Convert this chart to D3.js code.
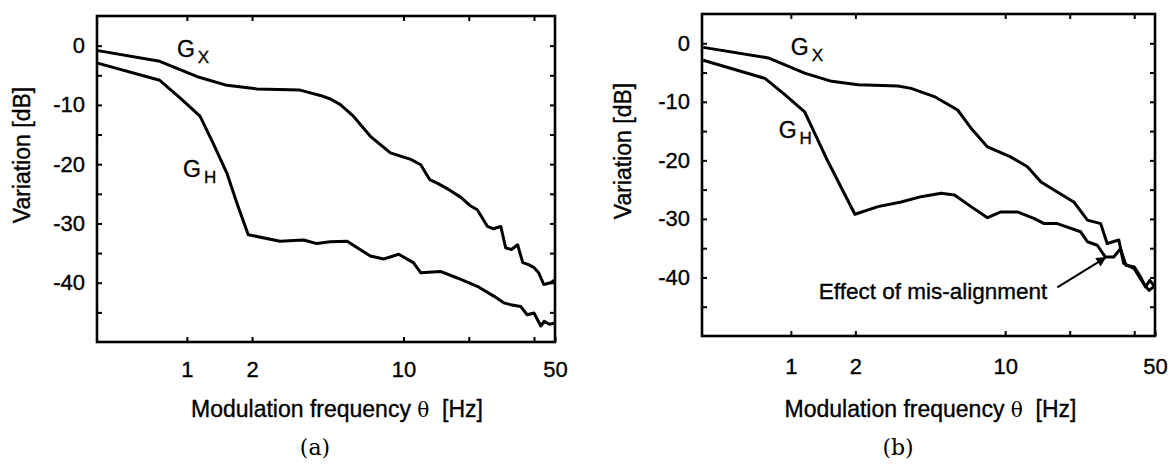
<!DOCTYPE html>
<html>
<head>
<meta charset="utf-8">
<script src="https://cdn.jsdelivr.net/npm/d3@7"></script>
<style>
body { margin: 0; background: #fff; }
</style>
</head>
<body>
<div id="chart"></div>
<script>
// Data: frequency [Hz] and variation [dB]
var freq_a_gx   =   [ 0.383, 0.75, 1.11, 1.53, 2.1, 3.33, 4.13, 4.6, 5.11, 5.87, 7.03, 8.7, 10.8, 12.0, 13.2, 14.3, 16.2, 18.4, 20.3, 21.9, 24.4, 26.0, 28.1, 29.6, 31.5, 33.6, 35.5, 37.5, 39.9, 42.0, 44.4, 47.7, 50 ];
var db_a_gx     =   [ -0.8, -2.65, -5.2, -6.7, -7.3, -7.5, -8.4, -9.0, -9.95, -11.9, -15.3, -18.1, -19.2, -20.1, -22.6, -23.2, -24.3, -25.6, -27.0, -27.7, -30.5, -30.9, -30.5, -34.1, -34.4, -33.6, -36.6, -36.9, -37.4, -38.3, -40.3, -40.0, -39.5 ];
var freq_a_gh   =   [ 0.383, 0.75, 0.93, 1.15, 1.32, 1.53, 1.7, 1.92, 2.69, 3.46, 3.98, 4.59, 5.49, 7.03, 8.1, 9.5, 11.1, 12.0, 14.8, 17.7, 21.9, 26.2, 29.1, 31.2, 34.7, 37.2, 40, 43, 44.6, 47.1, 50 ];
var db_a_gh     =   [ -2.9, -5.85, -8.8, -11.9, -16.4, -21.5, -26.5, -31.9, -33.0, -32.8, -33.4, -33.1, -33.0, -35.5, -36.0, -35.2, -36.6, -38.3, -38.1, -39.2, -40.6, -42.3, -43.4, -43.7, -44.0, -45.4, -45.1, -47.3, -46.5, -47.0, -46.8 ];

var freq_b_gx   =   [ 0.39, 0.785, 1.16, 1.55, 2.06, 3.16, 3.64, 4.67, 6.0, 6.93, 8.27, 10.6, 12.7, 14.7, 17.5, 20.9, 24.2, 27.9, 29.9, 33.9, 35.7, 40, 44.3, 46.9, 50 ];
var db_b_gx     =   [ -0.7, -2.5, -5.1, -6.5, -7.1, -7.3, -7.7, -9.1, -11.4, -14.5, -17.7, -19.4, -21.1, -23.7, -25.4, -27.1, -30.2, -30.8, -34.2, -33.6, -37.6, -38.5, -41.1, -42.2, -41.4 ];
var freq_b_gh   =   [ 0.39, 0.757, 0.94, 1.16, 1.49, 1.99, 2.55, 3.27, 4.05, 5.02, 5.8, 6.93, 8.27, 9.55, 11.4, 13.6, 15.2, 17.5, 19.5, 22.5, 24.2, 26.9, 29.3, 32.1, 34.5, 36.6, 40, 42.8, 45.1, 47.3, 50 ];
var db_b_gh     =   [ -2.9, -6.0, -8.8, -11.7, -20.2, -29.2, -27.9, -27.1, -26.2, -25.6, -25.9, -27.9, -29.8, -28.8, -28.8, -29.9, -30.8, -30.8, -31.4, -32.2, -33.9, -34.5, -36.5, -36.5, -35.1, -37.9, -38.2, -39.9, -41.6, -40.5, -41.6 ];

// Ticks and labels
var x_ticks     =   [ 1, 2, 10, 20, 40, 50 ];
var x_labels    =   [ 1, 2, 10, 50 ];
var y_ticks     =   [ 0, -5, -10, -15, -20, -25, -30, -35, -40, -45 ];
var y_labels    =   [ 0, -10, -20, -30, -40 ];
var x_domain    =   [ 0.385, 50 ];
var y_domain    =   [ -50, 5 ];
var x_title     =   "Modulation frequency ";
var y_title     =   "Variation [dB]";
var captions    =   [ "(a)", "(b)" ];

// Curve label positions [Hz, dB]
var label_gx_a  =   [ 0.90, -1.9 ];
var label_gh_a  =   [ 0.96, -22.2 ];
var label_gx_b  =   [ 1.0, -2.0 ];
var label_gh_b  =   [ 0.877, -16.2 ];

// Annotation in (b) [Hz, dB]
var note_text   =   "Effect of mis-alignment";
var note_pos    =   [ 1.35, -43.6 ];
var arrow_from  =   [ 17.5, -41.7 ];
var arrow_to    =   [ 29.4, -36.6 ];

var chart_width     =   1173;
var chart_height    =   464;
var sans            =   "'Liberation Sans', Arial, Helvetica, sans-serif";

var svg = d3.select("#chart")
    .append("svg")
    .attr("width", chart_width)
    .attr("height", chart_height)
    .style("background", "#fff");

svg.append("defs").append("marker")
    .attr("id", "arrowhead")
    .attr("viewBox", "0 0 10 10")
    .attr("refX", 9).attr("refY", 5)
    .attr("markerWidth", 7).attr("markerHeight", 5)
    .attr("markerUnits", "strokeWidth")
    .attr("orient", "auto")
    .append("path")
    .attr("d", "M0,0 L10,5 L0,10 z")
    .attr("fill", "#000");

// heavier look of the printed sans text
function ink(sel, size) {
    return sel.attr("font-family", sans).attr("font-size", size)
        .attr("fill", "#000").attr("stroke", "#000").attr("stroke-width", 0.35);
}

var panels = [
    { left: 97,  top: 16, right: 555,  bottom: 342, xpad: 19, title_dx: 11, cap_x: 315,
      gx: [freq_a_gx, db_a_gx], gh: [freq_a_gh, db_a_gh], lgx: label_gx_a, lgh: label_gh_a, ytitle_x: 22 },
    { left: 702, top: 14, right: 1155, bottom: 336, xpad: 22, title_dx: 2, cap_x: 898,
      gx: [freq_b_gx, db_b_gx], gh: [freq_b_gh, db_b_gh], lgx: label_gx_b, lgh: label_gh_b, ytitle_x: 623, note: true }
];

panels.forEach(function(p, i) {
    var x = d3.scaleLog().domain(x_domain).range([p.left, p.right]);
    var y = d3.scaleLinear().domain(y_domain).range([p.bottom, p.top]);
    var g = svg.append("g");

    var xfmt = function(d){ return x_labels.indexOf(d) >= 0 ? String(d) : ""; };
    var yfmt = function(d){ return y_labels.indexOf(d) >= 0 ? String(d) : ""; };

    // Axes (ticks point inward)
    var axes = [
        g.append("g").attr("transform", "translate(0," + p.bottom + ")")
            .call(d3.axisBottom(x).tickValues(x_ticks).tickSize(-5).tickPadding(p.xpad).tickFormat(xfmt)),
        g.append("g").attr("transform", "translate(0," + p.top + ")")
            .call(d3.axisTop(x).tickValues(x_ticks.slice(0, 5)).tickSize(-5).tickFormat("")),
        g.append("g").attr("transform", "translate(" + p.left + ",0)")
            .call(d3.axisLeft(y).tickValues(y_ticks).tickSize(-5).tickPadding(12).tickFormat(yfmt)),
        g.append("g").attr("transform", "translate(" + p.right + ",0)")
            .call(d3.axisRight(y).tickValues(y_ticks).tickSize(-5).tickFormat(""))
    ];
    axes.forEach(function(a){
        a.select(".domain").remove();
        a.selectAll("line").attr("stroke", "#000").attr("stroke-width", 2);
        ink(a.selectAll("text"), 22);
    });

    // Frame
    g.append("rect")
        .attr("x", p.left).attr("y", p.top)
        .attr("width", p.right - p.left).attr("height", p.bottom - p.top)
        .attr("fill", "none").attr("stroke", "#000").attr("stroke-width", 2.6);

    // Curves
    var line = d3.line()
        .x(function(d){ return x(d[0]); })
        .y(function(d){ return y(d[1]); });
    [p.gx, p.gh].forEach(function(s){
        g.append("path")
            .datum(d3.zip(s[0], s[1]))
            .attr("d", line)
            .attr("fill", "none")
            .attr("stroke", "#000")
            .attr("stroke-width", 3)
            .attr("stroke-linejoin", "round");
    });

    // Curve labels
    [[p.lgx, "X"], [p.lgh, "H"]].forEach(function(l){
        var t = ink(g.append("text"), 23)
            .attr("x", x(l[0][0])).attr("y", y(l[0][1]));
        t.append("tspan").text("G");
        t.append("tspan").attr("dx", 3).attr("dy", 6).attr("font-size", 17).text(l[1]);
    });

    // Axis titles
    var xt = ink(g.append("text"), 23)
        .attr("x", (p.left + p.right) / 2 + p.title_dx).attr("y", 417)
        .attr("text-anchor", "middle")
        .attr("xml:space", "preserve");
    xt.append("tspan").text(x_title);
    xt.append("tspan").attr("font-family", "'DejaVu Serif', serif").attr("font-size", 20).attr("stroke-width", 0).text("\u03b8");
    xt.append("tspan").text("  [Hz]");

    ink(g.append("text"), 23)
        .attr("transform", "translate(" + p.ytitle_x + "," + ((p.top + p.bottom) / 2 - 24) + ") rotate(-90)")
        .attr("dy", "0.35em")
        .attr("text-anchor", "middle")
        .text(y_title);

    // Caption
    g.append("text")
        .attr("x", p.cap_x).attr("y", 455)
        .attr("text-anchor", "middle")
        .attr("font-family", "'DejaVu Serif', 'Liberation Serif', serif").attr("font-size", 22)
        .text(captions[i]);

    // Annotation
    if (p.note) {
        ink(g.append("text"), 22.5)
            .attr("x", x(note_pos[0])).attr("y", y(note_pos[1]))
            .text(note_text);
        g.append("line")
            .attr("x1", x(arrow_from[0])).attr("y1", y(arrow_from[1]))
            .attr("x2", x(arrow_to[0])).attr("y2", y(arrow_to[1]))
            .attr("stroke", "#000").attr("stroke-width", 2)
            .attr("marker-end", "url(#arrowhead)");
    }
});
</script>
</body>
</html>
